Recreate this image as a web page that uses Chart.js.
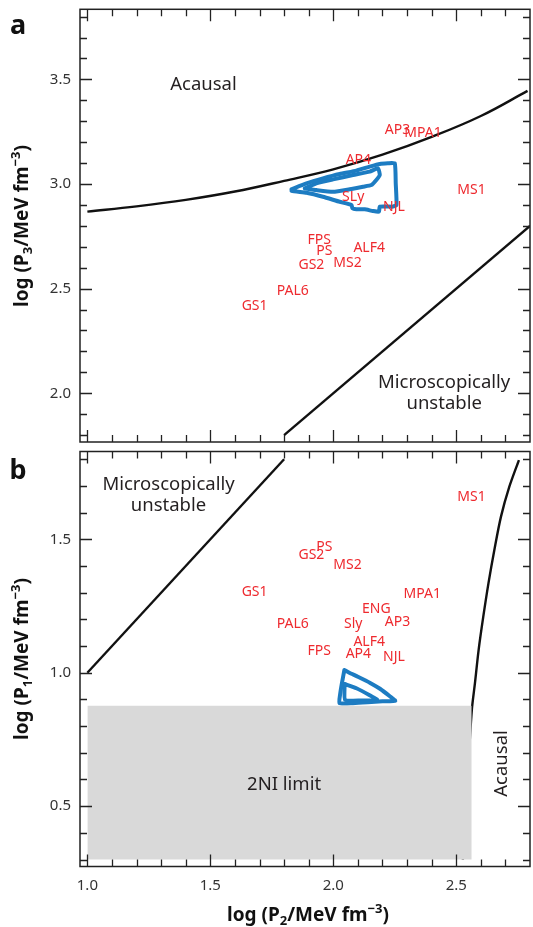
<!DOCTYPE html>
<html>
<head>
<meta charset="utf-8">
<script src="https://cdn.jsdelivr.net/npm/chart.js@4.4.1/dist/chart.umd.min.js"></script>
<style>
  html, body { margin: 0; padding: 0; background: #fff; }
  #wrap { position: relative; width: 533px; height: 927px; }
  canvas { position: absolute; left: 0; }
  #chartA { top: 0; }
  #chartB { top: 447px; }
</style>
</head>
<body>
<div id="wrap">
  <canvas id="chartA" width="533" height="447"></canvas>
  <canvas id="chartB" width="533" height="480"></canvas>
</div>
<script>
// tick values
const xTicks = [1.0, 1.1, 1.2, 1.3, 1.4, 1.5, 1.6, 1.7, 1.8, 1.9, 2.0, 2.1, 2.2, 2.3, 2.4, 2.5, 2.6, 2.7];
const xMajor = [1.0, 1.5, 2.0, 2.5];
const yTicksA = [1.8, 1.9, 2.0, 2.1, 2.2, 2.3, 2.4, 2.5, 2.6, 2.7, 2.8, 2.9, 3.0, 3.1, 3.2, 3.3, 3.4, 3.5, 3.6, 3.7, 3.8];
const yMajorA = [2.0, 2.5, 3.0, 3.5];
const yTicksB = [0.3, 0.4, 0.5, 0.6, 0.7, 0.8, 0.9, 1.0, 1.1, 1.2, 1.3, 1.4, 1.5, 1.6, 1.7, 1.8];
const yMajorB = [0.5, 1.0, 1.5];

// panel a : log P3 vs log P2
const eosA = ['AP3', 'MPA1', 'AP4', 'SLy', 'NJL', 'MS1', 'FPS', 'PS', 'ALF4', 'GS2', 'MS2', 'PAL6', 'GS1'];
const eosP2A = [2.261, 2.365, 2.102, 2.081, 2.247, 2.562, 1.943, 1.964, 2.146, 1.911, 2.058, 1.835, 1.680];
const eosP3A = [3.258, 3.242, 3.115, 2.939, 2.892, 2.971, 2.732, 2.681, 2.693, 2.613, 2.621, 2.490, 2.417];

const causalP2A = [1.0, 1.2, 1.4, 1.6, 1.8, 2.0, 2.2, 2.4, 2.6, 2.79];
const causalP3A = [2.868, 2.893, 2.924, 2.964, 3.015, 3.070, 3.140, 3.225, 3.325, 3.445];
const unstableP2A = [1.8, 2.8];
const unstableP3A = [1.8, 2.8];

const outerP2A = [1.830, 1.891, 1.958, 2.026, 2.094, 2.148, 2.189, 2.222, 2.250, 2.254, 2.257, 2.243, 2.189, 2.186, 2.161, 2.128, 2.094, 2.078, 2.074, 2.026, 1.958, 1.891, 1.830, 1.830];
const outerP3A = [2.975, 3.003, 3.027, 3.048, 3.064, 3.083, 3.096, 3.099, 3.099, 3.003, 2.900, 2.892, 2.892, 2.868, 2.871, 2.879, 2.879, 2.884, 2.900, 2.915, 2.939, 2.958, 2.968, 2.975];
const innerP2A = [1.884, 1.931, 1.999, 2.080, 2.148, 2.182, 2.189, 2.175, 2.155, 2.121, 2.067, 1.999, 1.931, 1.884];
const innerP3A = [2.979, 3.003, 3.022, 3.043, 3.059, 3.075, 3.043, 3.019, 2.995, 2.987, 2.975, 2.963, 2.971, 2.979];

// panel b : log P1 vs log P2
const eosB = ['MS1', 'PS', 'GS2', 'MS2', 'GS1', 'MPA1', 'ENG', 'AP3', 'PAL6', 'Sly', 'ALF4', 'FPS', 'AP4', 'NJL'];
const eosP2B = [2.562, 1.964, 1.911, 2.058, 1.680, 2.362, 2.175, 2.261, 1.835, 2.081, 2.146, 1.943, 2.102, 2.247];
const eosP1B = [1.658, 1.470, 1.441, 1.404, 1.304, 1.295, 1.238, 1.191, 1.183, 1.183, 1.114, 1.082, 1.070, 1.060];

const causalP2B = [2.527, 2.538, 2.552, 2.564, 2.576, 2.591, 2.610, 2.631, 2.655, 2.682, 2.716, 2.755];
const causalP1B = [0.30, 0.50, 0.70, 0.866, 0.96, 1.085, 1.21, 1.335, 1.46, 1.585, 1.697, 1.797];
const unstableP2B = [1.0, 1.8];
const unstableP1B = [1.0, 1.8];

const limitP2 = [1.0, 2.563];
const limitTop = [0.876, 0.876];
const limitBottom = 0.30;

const outerP2B = [2.045, 2.035, 2.028, 2.025, 2.080, 2.140, 2.200, 2.252, 2.230, 2.190, 2.150, 2.100, 2.065, 2.045];
const outerP1B = [1.010, 0.960, 0.920, 0.886, 0.886, 0.889, 0.893, 0.895, 0.912, 0.940, 0.962, 0.985, 1.000, 1.010];
const innerP2B = [2.046, 2.094, 2.148, 2.178, 2.110, 2.048, 2.046];
const innerP1B = [0.958, 0.942, 0.916, 0.899, 0.896, 0.898, 0.958];

const BLUE = '#1d7cc2';
const RED = '#ee2a2f';
const INK = '#231f20';
const FONT = '"Noto Sans"';

function pts(xs, ys) {
  return xs.map((x, i) => ({ x: x, y: ys[i] }));
}

function curve(xs, ys, tension) {
  return {
    data: pts(xs, ys), borderColor: '#111', borderWidth: 2.4, pointRadius: 0,
    tension: tension, fill: false
  };
}

function contour(xs, ys) {
  return {
    data: pts(xs, ys), borderColor: BLUE, borderWidth: 4, pointRadius: 0,
    borderJoinStyle: 'round', borderCapStyle: 'round', tension: 0.15, fill: false
  };
}

function labels(xs, ys) {
  return { data: pts(xs, ys), showLine: false, pointRadius: 0, borderWidth: 0 };
}

// text with sub / superscripts, centred on (0,0)
function drawRich(ctx, parts, size) {
  let total = 0;
  parts.forEach(p => {
    ctx.font = `bold ${p.s ? Math.round(size * 0.68) : size}px ${FONT}`;
    p.w = ctx.measureText(p.t).width;
    total += p.w;
  });
  let x = -total / 2;
  ctx.textAlign = 'left';
  ctx.textBaseline = 'alphabetic';
  parts.forEach(p => {
    ctx.font = `bold ${p.s ? Math.round(size * 0.68) : size}px ${FONT}`;
    const dy = p.s === 'sub' ? size * 0.22 : (p.s === 'sup' ? -size * 0.42 : 0);
    ctx.fillText(p.t, x, size * 0.35 + dy);
    x += p.w;
  });
}

function titleParts(n) {
  return [{ t: 'log (P' }, { t: n, s: 'sub' }, { t: '/MeV fm' }, { t: '\u22123', s: 'sup' }, { t: ')' }];
}

function decor(cfg) {
  return {
    id: 'decor',
    afterDatasetsDraw(chart) {
      const { ctx, chartArea: a, scales: { x, y } } = chart;
      ctx.save();
      // frame
      ctx.strokeStyle = '#222';
      ctx.lineWidth = 1.5;
      ctx.strokeRect(a.left, a.top, a.right - a.left, a.bottom - a.top);
      // inward ticks on all four sides
      ctx.lineWidth = 1.3;
      ctx.beginPath();
      xTicks.forEach(v => {
        const px = Math.round(x.getPixelForValue(v)) + 0.5;
        const len = xMajor.some(m => Math.abs(m - v) < 1e-6) ? 12 : 7;
        ctx.moveTo(px, a.bottom); ctx.lineTo(px, a.bottom - len);
        ctx.moveTo(px, a.top); ctx.lineTo(px, a.top + len);
      });
      cfg.yTicks.forEach(v => {
        const py = Math.round(y.getPixelForValue(v)) + 0.5;
        const len = cfg.yMajor.some(m => Math.abs(m - v) < 1e-6) ? 12 : 7;
        ctx.moveTo(a.left, py); ctx.lineTo(a.left + len, py);
        ctx.moveTo(a.right, py); ctx.lineTo(a.right - len, py);
      });
      ctx.stroke();

      // model names
      ctx.fillStyle = RED;
      ctx.font = `14px ${FONT}`;
      ctx.textAlign = 'center';
      ctx.textBaseline = 'middle';
      const meta = chart.getDatasetMeta(cfg.labelSet);
      meta.data.forEach((pt, i) => ctx.fillText(cfg.names[i], pt.x, pt.y));

      // region texts
      ctx.fillStyle = INK;
      ctx.font = `18.5px ${FONT}`;
      cfg.regions.forEach(r => {
        const px = x.getPixelForValue(r.x), py = y.getPixelForValue(r.y);
        if (r.rot) {
          ctx.save();
          ctx.translate(px, py);
          ctx.rotate(-Math.PI / 2);
          ctx.fillText(r.t, 0, 0);
          ctx.restore();
        } else {
          ctx.fillText(r.t, px, py);
        }
      });

      // panel letter
      ctx.font = `bold 27px ${FONT}`;
      ctx.fillStyle = '#111';
      ctx.fillText(cfg.letter, 18, cfg.letterY);

      // y title
      ctx.fillStyle = '#111';
      ctx.save();
      ctx.translate(21, cfg.titleY);
      ctx.rotate(-Math.PI / 2);
      drawRich(ctx, titleParts(cfg.sub), 19);
      ctx.restore();

      if (cfg.xTitle) {
        ctx.save();
        ctx.translate(308, chart.height - 13);
        drawRich(ctx, titleParts('2'), 19);
        ctx.restore();
      }
      ctx.restore();
    }
  };
}

const tickFont = { family: FONT, size: 15 };

function yScale(min, max) {
  return {
    type: 'linear', min: min, max: max,
    afterFit: s => { s.width = 80; s.paddingTop = 0; s.paddingBottom = 0; },
    grid: { display: false, drawTicks: false }, border: { display: false },
    ticks: { stepSize: 0.5, includeBounds: false, padding: 9, color: '#333', font: tickFont, autoSkip: false, callback: v => v.toFixed(1) }
  };
}

new Chart(document.getElementById('chartA'), {
  type: 'line',
  data: {
    datasets: [
      curve(causalP2A, causalP3A, 0.4),
      curve(unstableP2A, unstableP3A, 0),
      contour(outerP2A, outerP3A),
      contour(innerP2A, innerP3A),
      labels(eosP2A, eosP3A)
    ]
  },
  options: {
    responsive: false, animation: false, devicePixelRatio: 1,
    layout: { padding: { top: 9.3, right: 3, bottom: 5, left: 0 } },
    plugins: { legend: { display: false }, tooltip: { enabled: false } },
    scales: {
      x: { type: 'linear', min: 0.97, max: 2.80, display: false },
      y: yScale(1.767, 3.835)
    }
  },
  plugins: [decor({
    yTicks: yTicksA, yMajor: yMajorA, labelSet: 4, names: eosA,
    regions: [
      { t: 'Acausal', x: 1.472, y: 3.473 },
      { t: 'Microscopically', x: 2.451, y: 2.051 },
      { t: 'unstable', x: 2.451, y: 1.952 }
    ],
    letter: 'a', letterY: 26, titleY: 226, sub: '3', xTitle: false
  })]
});

new Chart(document.getElementById('chartB'), {
  type: 'line',
  data: {
    datasets: [
      {
        data: pts(limitP2, limitTop), borderWidth: 0, pointRadius: 0,
        backgroundColor: '#d9d9d9', fill: { value: limitBottom }
      },
      curve(causalP2B, causalP1B, 0.3),
      curve(unstableP2B, unstableP1B, 0),
      contour(outerP2B, outerP1B),
      contour(innerP2B, innerP1B),
      labels(eosP2B, eosP1B)
    ]
  },
  options: {
    responsive: false, animation: false, devicePixelRatio: 1,
    layout: { padding: { top: 4.5, right: 3, bottom: 0, left: 0 } },
    plugins: { legend: { display: false }, tooltip: { enabled: false } },
    scales: {
      x: {
        type: 'linear', min: 0.97, max: 2.80,
        afterFit: s => { s.height = 60.5; s.paddingLeft = 0; s.paddingRight = 0; },
        grid: { display: false, drawTicks: false }, border: { display: false },
        ticks: { stepSize: 0.5, includeBounds: false, padding: 10, color: '#333', font: tickFont, autoSkip: false, maxRotation: 0, callback: v => v.toFixed(1) }
      },
      y: yScale(0.274, 1.829)
    }
  },
  plugins: [decor({
    yTicks: yTicksB, yMajor: yMajorB, labelSet: 5, names: eosB,
    regions: [
      { t: 'Microscopically', x: 1.330, y: 1.706 },
      { t: 'unstable', x: 1.330, y: 1.626 },
      { t: '2NI limit', x: 1.800, y: 0.582 },
      { t: 'Acausal', x: 2.686, y: 0.660, rot: true }
    ],
    letter: 'b', letterY: 24, titleY: 212, sub: '1', xTitle: true
  })]
});
</script>
</body>
</html>
